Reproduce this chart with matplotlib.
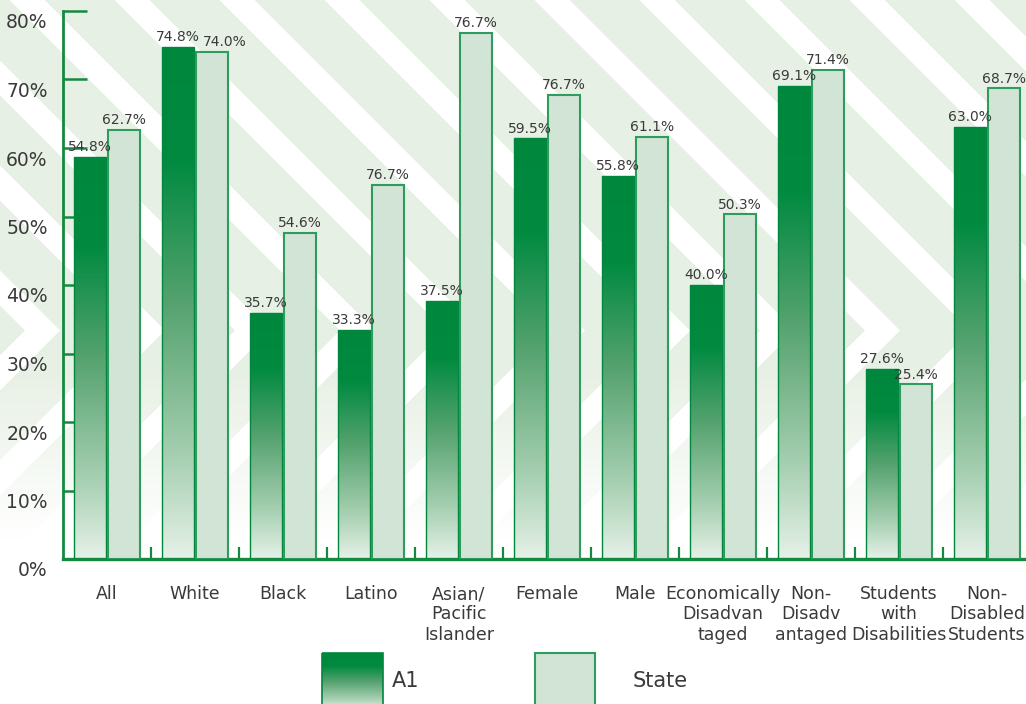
import numpy as np
import matplotlib
matplotlib.use('Agg')
import matplotlib.pyplot as plt
from matplotlib.colors import LinearSegmentedColormap, to_rgb
from matplotlib.patches import Rectangle
from matplotlib.transforms import ScaledTranslation

# 数据（柱高读自图，标签文字照原图）
categories = ['All', 'White', 'Black', 'Latino', 'Asian/\nPacific\nIslander', 'Female',
              'Male', 'Economically\nDisadvan\ntaged', 'Non-\nDisadv\nantaged',
              'Students\nwith\nDisabilities', 'Non-\nDisabled\nStudents']
a1_vals = [58.7, 74.8, 35.9, 33.4, 37.7, 61.4, 55.9, 40.0, 69.1, 27.7, 63.1]
state_vals = [62.7, 74.0, 47.6, 54.6, 76.8, 67.8, 61.6, 50.3, 71.4, 25.5, 68.7]
a1_labels = ['54.8%', '74.8%', '35.7%', '33.3%', '37.5%', '59.5%', '55.8%', '40.0%', '69.1%', '27.6%', '63.0%']
state_labels = ['62.7%', '74.0%', '54.6%', '76.7%', '76.7%', '76.7%', '61.1%', '50.3%', '71.4%', '25.4%', '68.7%']
yticks = [0, 10, 20, 30, 40, 50, 60, 70, 80]
series_names = ['A1', 'State']

dark = '#00873e'
state_fill = '#d2e4d6'
state_edge = '#2e9c5c'
axis_green = '#15893f'
txt = '#3a3a3a'

grad_cmap = LinearSegmentedColormap.from_list(
    'a1', [(0.0, dark), (0.22, '#008a40'), (0.5, '#55a26f'), (0.8, '#a6cfb1'), (1.0, '#e6f1e8')])

W, H = 1026, 704
fig = plt.figure(figsize=(W / 100, H / 100), dpi=100)

# 背景花纹
bg = fig.add_axes([0, 0, 1, 1])
yy, xx = np.mgrid[0:H, 0:W]
d = np.abs(xx + 150) + np.abs(yy - 330)
band = (d % 105) < 70
fade = np.clip((540 - yy) / 170, 0, 1)
alpha = band * fade * 0.6
img = np.ones((H, W, 4))
img[..., :3] = to_rgb('#d8e6d3')
img[..., 3] = alpha
bg.imshow(img, extent=[0, W, H, 0], aspect='auto')
bg.set_xlim(0, W)
bg.set_ylim(H, 0)
bg.axis('off')

ax = fig.add_axes([63 / W, (H - 559) / H, (W - 63) / W, 548 / H])
ax.set_facecolor('none')

x = np.arange(len(categories))
w = 0.37
off = 0.195

# A1 柱（渐变填充）
a1_bars = ax.bar(x - off, a1_vals, w, facecolor='none', edgecolor=dark, linewidth=1.0, zorder=3)
grad = np.linspace(0, 1, 256).reshape(-1, 1)
for b in a1_bars:
    x0, h = b.get_x(), b.get_height()
    im = ax.imshow(grad, cmap=grad_cmap, extent=[x0, x0 + b.get_width(), 0, h],
                   origin='upper', aspect='auto', zorder=2)
    im.set_clip_path(b)

ax.bar(x + off, state_vals, w, facecolor=state_fill, edgecolor=state_edge, linewidth=1.5, zorder=3)

for i in range(len(categories)):
    # White 组的 State 标签原图略向右挪
    dx = 9 if i == 1 else 0
    ax.annotate(a1_labels[i], (x[i] - off, a1_vals[i]), xytext=(0, 2), textcoords='offset points',
                ha='center', va='bottom', fontsize=10, color=txt, zorder=5)
    ax.annotate(state_labels[i], (x[i] + off, state_vals[i]), xytext=(dx, 2), textcoords='offset points',
                ha='center', va='bottom', fontsize=10, color=txt, zorder=5)

ax.set_xlim(-0.5, (W - 107) / 88)
ax.set_ylim(0, 80)

for s in ['top', 'right']:
    ax.spines[s].set_visible(False)
ax.spines['left'].set_color(axis_green)
ax.spines['left'].set_linewidth(2)
ax.spines['bottom'].set_color(axis_green)
ax.spines['bottom'].set_linewidth(2.4)

ax.set_yticks(yticks)
ax.set_yticklabels([f'{v}%' for v in yticks])
ax.tick_params(axis='y', direction='in', length=17, width=1.8, color=axis_green,
               pad=11, labelsize=13.5, labelcolor=txt)
for lab in ax.get_yticklabels():
    lab.set_transform(lab.get_transform() + ScaledTranslation(0, -0.10, fig.dpi_scale_trans))

ax.set_xticks(x)
ax.set_xticklabels(categories, fontsize=12.5, color=txt, linespacing=1.15)
ax.tick_params(axis='x', which='major', length=0, pad=19)
ax.set_xticks(x[:-1] + 0.5, minor=True)
ax.tick_params(axis='x', which='minor', direction='in', length=9, width=1.6, color=axis_green)

# 图例
lg = fig.add_axes([0, 0, 1, 1], facecolor='none')
lg.set_xlim(0, W)
lg.set_ylim(H, 0)
lg.axis('off')
lg_img = lg.imshow(grad, cmap=grad_cmap, extent=[322, 383, 710, 653], aspect='auto', zorder=2)
r1 = Rectangle((322, 653), 61, 60, facecolor='none', edgecolor=dark, linewidth=1.2, zorder=3)
lg.add_patch(r1)
lg_img.set_clip_path(r1)
lg.add_patch(Rectangle((535, 653), 60, 60, facecolor=state_fill, edgecolor=state_edge, linewidth=1.5, zorder=3))
lg.text(392, 681, series_names[0], fontsize=15, color=txt, va='center', ha='left')
lg.text(633, 681, series_names[1], fontsize=15, color=txt, va='center', ha='left')
lg.set_xlim(0, W)
lg.set_ylim(H, 0)

fig.savefig('out.png', dpi=100)
